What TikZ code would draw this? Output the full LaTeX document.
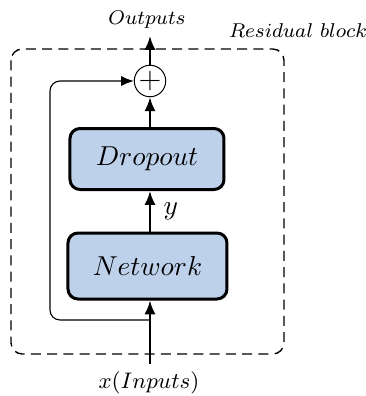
\documentclass[tikz,border=0pt]{standalone}
\usetikzlibrary{arrows.meta}
\definecolor{boxblue}{HTML}{BDD1EA}
\begin{document}
\begin{tikzpicture}[x=0.4pt,y=-0.4pt,
  blockbox/.style={draw, line width=1.2pt, fill=boxblue, rounded corners=4pt, inner sep=0pt, font=\fontsize{10.6}{12}\selectfont},
  mainarrow/.style={-{Latex[length=5.5pt,width=4.4pt]}, line width=0.85pt},
  skiparrow/.style={-{Latex[length=5pt,width=4pt]}, line width=0.45pt, rounded corners=4pt},
  lbl/.style={inner sep=0pt}]
\useasboundingbox (0,0) rectangle (366,396);
\draw[dashed, line width=0.55pt, dash pattern=on 4pt off 2.5pt, rounded corners=4.5pt] (11,49) rectangle (284,354);
\node[blockbox, minimum width=61.6pt, minimum height=24.4pt] (drop) at (147,159) {$Dropout$};
\node[blockbox, minimum width=63.6pt, minimum height=26.4pt] (net) at (147.5,266) {$Network$};
\node[draw, circle, line width=0.4pt, minimum size=12.6pt, inner sep=0pt, font=\large] (plus) at (150,81) {$+$};
\node[lbl] (out) at (147,20) {\footnotesize $Outputs$};
\node[lbl] (res) at (298,31) {\footnotesize $Residual\ block$};
\node[lbl] (in) at (149,383) {\fontsize{8.6}{10}\selectfont $x(Inputs)$};
\coordinate (inbot) at (150,364);
\coordinate (split) at (150,320);
\coordinate (outtop) at (150,36);
\draw[mainarrow] (inbot) -- (net.south -| inbot);
\draw[mainarrow] (net.north -| inbot) -- node[right=5pt, lbl, font=\fontsize{10.6}{12}\selectfont] (ylbl) {$y$} (drop.south -| inbot);
\draw[mainarrow] (drop.north -| plus) -- (plus.south);
\draw[mainarrow] (plus.north) -- (outtop);
\draw[skiparrow] (split) -- (50,320) -- (50,81) -- (plus.west);
\end{tikzpicture}
\end{document}
